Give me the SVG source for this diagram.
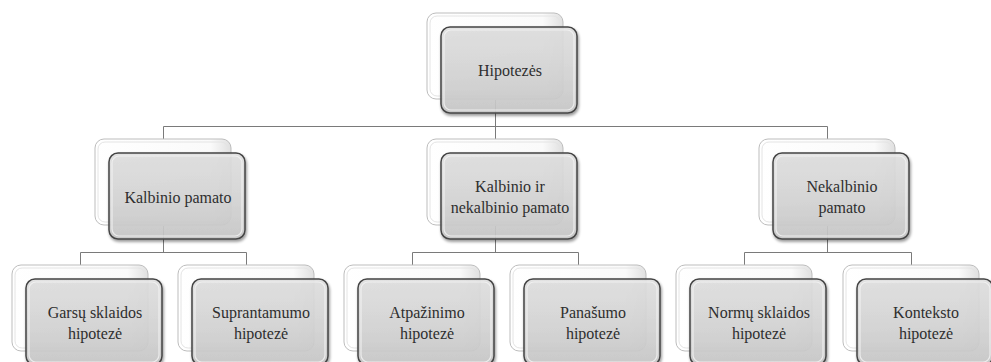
<svg xmlns="http://www.w3.org/2000/svg" width="991" height="362" viewBox="0 0 991 362">
<defs>
  <linearGradient id="gFront" x1="0" y1="0" x2="0" y2="1">
    <stop offset="0" stop-color="#e2e2e2"/>
    <stop offset="0.5" stop-color="#d8d8d8"/>
    <stop offset="1" stop-color="#c9c9c9"/>
  </linearGradient>
  <linearGradient id="gBack" x1="0" y1="0" x2="1" y2="0">
    <stop offset="0" stop-color="#ffffff"/>
    <stop offset="0.85" stop-color="#fafafa"/>
    <stop offset="1" stop-color="#e0e0e0"/>
  </linearGradient>
  <filter id="sh" x="-10%" y="-10%" width="125%" height="130%">
    <feGaussianBlur in="SourceAlpha" stdDeviation="1.5"/>
    <feOffset dx="1" dy="2" result="b"/>
    <feComponentTransfer><feFuncA type="linear" slope="0.45"/></feComponentTransfer>
    <feMerge><feMergeNode/><feMergeNode in="SourceGraphic"/></feMerge>
  </filter>
  <g id="card">
    <rect x="0" y="0" width="136" height="86" rx="9" fill="url(#gBack)" stroke="#bdbdbd" stroke-width="1"/>
    <rect x="3" y="3" width="130" height="80" rx="7" fill="none" stroke="#e4e4e4" stroke-width="1"/>
    <g filter="url(#sh)">
      <rect x="14" y="14" width="136" height="86" rx="9" fill="url(#gFront)" fill-opacity="0.88" stroke="#454545" stroke-width="1.5"/>
    </g>
    <rect x="17" y="17" width="130" height="80" rx="7" fill="none" stroke="#f4f4f4" stroke-opacity="0.8" stroke-width="1.2"/>
  </g>
</defs>
<style>
  .c { fill: none; stroke: #7a7a7a; stroke-width: 1; }
</style>
<g id="connectors">
  <path class="c" d="M495.5 100 V126.5 M163.5 126.5 H827.5 M163.5 126.5 V139 M495.5 126.5 V139 M827.5 126.5 V139"/>
  <path class="c" d="M163.5 226 V252.5 M80.5 252.5 H246.5 M80.5 252.5 V265 M246.5 252.5 V265"/>
  <path class="c" d="M495.5 226 V252.5 M412.5 252.5 H578.5 M412.5 252.5 V265 M578.5 252.5 V265"/>
  <path class="c" d="M827.5 226 V252.5 M744.5 252.5 H911.5 M744.5 252.5 V265 M911.5 252.5 V265"/>
</g>
<g font-family="Liberation Serif, serif" font-size="16" fill="#2e2e2e" text-anchor="middle">
<g id="n-root">
  <use href="#card" x="427" y="13"/>
  <text x="510" y="76">Hipotezės</text>
</g>
<g id="n-kalbinio">
  <use href="#card" x="95" y="139"/>
  <text x="178" y="203">Kalbinio pamato</text>
</g>
<g id="n-mixed">
  <use href="#card" x="427" y="139"/>
  <text x="510" y="192">Kalbinio ir</text>
  <text x="510" y="213">nekalbinio pamato</text>
</g>
<g id="n-nekalbinio">
  <use href="#card" x="759" y="139"/>
  <text x="842" y="192">Nekalbinio</text>
  <text x="842" y="213">pamato</text>
</g>
<g id="n-garsu">
  <use href="#card" x="12" y="265"/>
  <text x="95" y="318">Garsų sklaidos</text>
  <text x="95" y="339">hipotezė</text>
</g>
<g id="n-suprant">
  <use href="#card" x="178" y="265"/>
  <text x="261" y="318">Suprantamumo</text>
  <text x="261" y="339">hipotezė</text>
</g>
<g id="n-atpaz">
  <use href="#card" x="344" y="265"/>
  <text x="427" y="318">Atpažinimo</text>
  <text x="427" y="339">hipotezė</text>
</g>
<g id="n-panas">
  <use href="#card" x="510" y="265"/>
  <text x="593" y="318">Panašumo</text>
  <text x="593" y="339">hipotezė</text>
</g>
<g id="n-normu">
  <use href="#card" x="676" y="265"/>
  <text x="759" y="318">Normų sklaidos</text>
  <text x="759" y="339">hipotezė</text>
</g>
<g id="n-kontekst">
  <use href="#card" x="843" y="265"/>
  <text x="926" y="318">Konteksto</text>
  <text x="926" y="339">hipotezė</text>
</g>
</g>
</svg>
